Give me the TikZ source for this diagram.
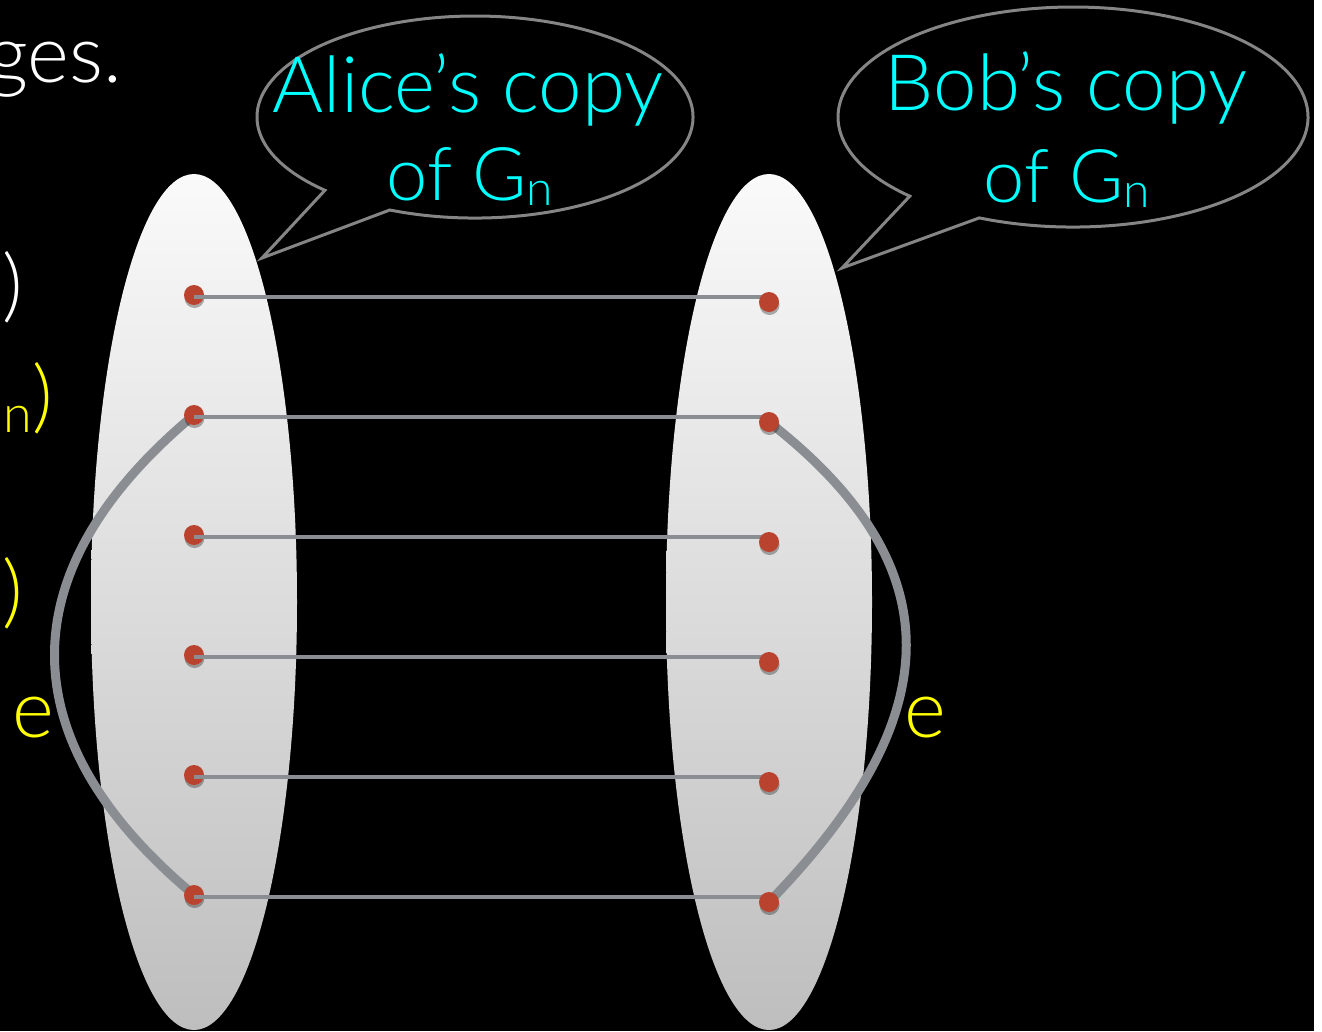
\documentclass[tikz,border=0pt]{standalone}
\usepackage{fontspec}
\newfontfamily\lightfont{Lato Light}
\usetikzlibrary{shadows}
\definecolor{dotred}{HTML}{B9432E}
\definecolor{linegray}{HTML}{8A8D92}
\definecolor{bubblegray}{HTML}{858585}
\definecolor{cyantext}{HTML}{00FFFF}
\definecolor{yel}{HTML}{FFFF00}
\definecolor{ovaltop}{HTML}{FAFAFA}
\definecolor{ovalbot}{HTML}{BEBEBE}
\pgfdeclarelayer{back}\pgfdeclarelayer{front}
\pgfsetlayers{back,main,front}
\newcommand{\subn}[1]{\raisebox{-5pt}{\fontsize{#1}{#1}\selectfont n}}
\begin{document}
\begin{tikzpicture}[x=1pt,y=-1pt,
  dotnode/.style={circle,fill=dotred,inner sep=0pt,minimum size=20pt,
    drop shadow={shadow xshift=0.5pt,shadow yshift=-3pt,opacity=0.3,fill=black}},
  hline/.style={draw=linegray,line width=4pt},
  thickcurve/.style={draw=linegray,line width=9pt},
  bubble/.style={draw=bubblegray,line width=3pt,line join=miter},
  oval/.style={top color=ovaltop,bottom color=ovalbot},
  bubbletext/.style={text=cyantext,inner sep=0pt,font=\lightfont\fontsize{78}{90}\selectfont},
  bubbletexttwo/.style={text=cyantext,inner sep=0pt,font=\lightfont\fontsize{74}{86}\selectfont},
  fragtext/.style={inner sep=0pt,font=\lightfont\fontsize{80}{96}\selectfont}]
\useasboundingbox (0,0) rectangle (1322,1031);
\begin{pgfonlayer}{back}
\fill[white] (0,0) rectangle (1322,1031);
\fill[black] (0,0) rectangle (1314,1031);
\shade[oval] (194,602) ellipse[x radius=103, y radius=428];
\shade[oval] (769,602) ellipse[x radius=103, y radius=428];
\end{pgfonlayer}

% right dots (on top of the lines)
\begin{pgfonlayer}{front}
\foreach \i/\yy in {1/302,2/422,3/542,4/662,5/782,6/902}
  \node[dotnode] (R\i) at (769,\yy) {};
\end{pgfonlayer}

% left dots
\foreach \i/\yy in {1/295,2/415,3/535,4/655,5/775,6/895}
  \node[dotnode] (L\i) at (194,\yy) {};

% thick curves behind the dots
\begin{pgfonlayer}{back}
\draw[thickcurve] (L2.center) .. controls (8,570) and (8,740) .. (L6.center);
\draw[thickcurve] (R2.center) .. controls (952,565) and (952,714) .. (R6.center);
\end{pgfonlayer}

% horizontal connectors
\foreach \i in {1,...,6}
  \draw[hline] ([yshift=-2pt]L\i.center) -- ([yshift=-2pt]L\i.center -| R\i.center);

% speech bubbles
\coordinate (atip) at (262,258);
\coordinate (btip) at (842,268);
\draw[bubble] (389.8,210) arc[start angle=113,end angle=-226.5,x radius=218,y radius=101] -- (atip) -- cycle;
\draw[bubble] (979.3,217.9) arc[start angle=113.5,end angle=-226,x radius=235,y radius=110] -- (btip) -- cycle;

\node[bubbletext,anchor=base] (a1) at (468,112) {Alice’s copy};
\node[bubbletexttwo,anchor=base] (a2) at (470,200) {of G\subn{48}};
\node[bubbletext,anchor=base] (b1) at (1066,110) {Bob’s copy};
\node[bubbletexttwo,anchor=base] (b2) at (1067,202) {of G\subn{48}};

% cropped text at the left edge
\node[fragtext,text=white,anchor=base east] (f1) at (122,82) {ges.};
\node[fragtext,text=white,anchor=base east] (f2) at (23,312) {)};
\node[fragtext,text=yel,anchor=base east] (f3) at (53,423) {\raisebox{-9pt}{\fontsize{52}{52}\selectfont n})};
\node[fragtext,text=yel,anchor=base east] (f4) at (23,618) {)};
\node[fragtext,text=yel,anchor=base west] (e1) at (12,737) {e};
\node[fragtext,text=yel,anchor=base west] (e2) at (904,737) {e};
\end{tikzpicture}
\end{document}
